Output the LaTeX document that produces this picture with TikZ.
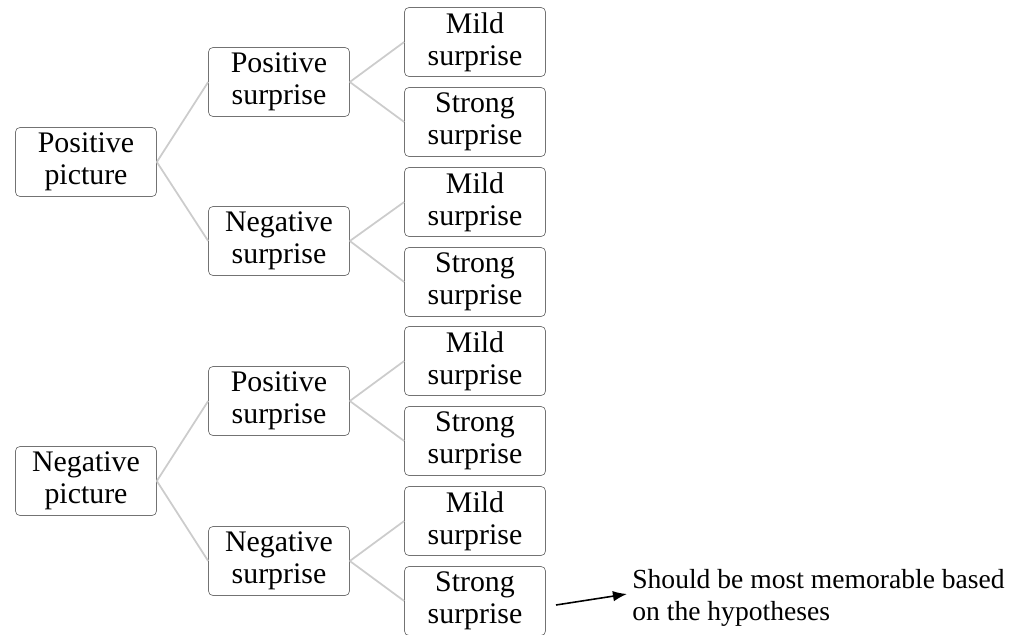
\documentclass[tikz,border=0pt]{standalone}
\usepackage{fontspec}
\setmainfont{Liberation Serif}
\usetikzlibrary{arrows.meta}

\begin{document}
\begin{tikzpicture}[x=0.02cm,y=-0.02cm,
  box/.style={draw=black!55,rounded corners=2.5pt,minimum width=2.82cm,minimum height=1.38cm,
    inner sep=0pt,align=center,font=\fontsize{17}{18.2}\selectfont},
  link/.style={draw=black!20,line width=1pt}]
\useasboundingbox (0,0) rectangle (1021,635);
\node[box] (pp) at (86,162) {Positive\\picture};
\node[box] (np) at (86,481) {Negative\\picture};
\node[box] (pp1) at (279,82) {Positive\\surprise};
\node[box] (pp2) at (279,241) {Negative\\surprise};
\node[box] (np1) at (279,401) {Positive\\surprise};
\node[box] (np2) at (279,561) {Negative\\surprise};
\node[box] (a1) at (475,42) {Mild\\surprise};
\node[box] (a2) at (475,122) {Strong\\surprise};
\node[box] (b1) at (475,202) {Mild\\surprise};
\node[box] (b2) at (475,282) {Strong\\surprise};
\node[box] (c1) at (475,361) {Mild\\surprise};
\node[box] (c2) at (475,441) {Strong\\surprise};
\node[box] (d1) at (475,521) {Mild\\surprise};
\node[box] (d2) at (475,601) {Strong\\surprise};
\draw[link] (pp.east) -- (pp1.west);
\draw[link] (pp.east) -- (pp2.west);
\draw[link] (np.east) -- (np1.west);
\draw[link] (np.east) -- (np2.west);
\draw[link] (pp1.east) -- (a1.west);
\draw[link] (pp1.east) -- (a2.west);
\draw[link] (pp2.east) -- (b1.west);
\draw[link] (pp2.east) -- (b2.west);
\draw[link] (np1.east) -- (c1.west);
\draw[link] (np1.east) -- (c2.west);
\draw[link] (np2.east) -- (d1.west);
\draw[link] (np2.east) -- (d2.west);
\node[anchor=west,inner sep=0pt,align=left,font=\fontsize{15.7}{18.2}\selectfont] (note) at (632,598)
  {Should be most memorable based\\on the hypotheses};
\coordinate (from) at (556,605);
\coordinate (tip) at (627,594);
\draw[-{Latex[length=8pt,width=6pt]},line width=0.9pt] (from) -- (tip);
\end{tikzpicture}
\end{document}
